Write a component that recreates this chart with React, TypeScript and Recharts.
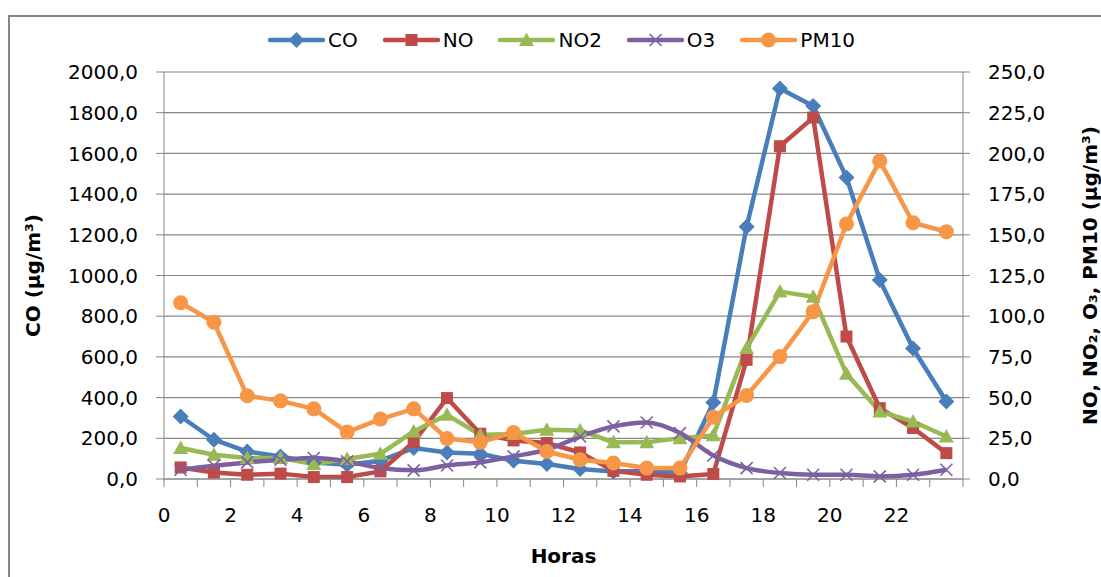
import React from 'react';
import { LineChart, Line, XAxis, YAxis, CartesianGrid, Label } from 'recharts';

// Hourly mean concentrations (µg/m³)
const hours = [0.5, 1.5, 2.5, 3.5, 4.5, 5.5, 6.5, 7.5, 8.5, 9.5, 10.5, 11.5, 12.5, 13.5, 14.5, 15.5, 16.5, 17.5, 18.5, 19.5, 20.5, 21.5, 22.5, 23.5];
const coValues = [307, 193, 135, 111, 81, 70, 90, 152, 130, 124, 90, 74, 49, 37, 40, 30, 376, 1240, 1919, 1833, 1482, 978, 641, 381];
const noValues = [7.1, 4.0, 2.6, 3.3, 1.2, 1.2, 4.7, 22.7, 49.7, 27.8, 23.7, 22.1, 16.3, 5.0, 2.6, 1.6, 3.1, 73.2, 204.4, 222.0, 87.5, 43.5, 31.3, 15.9];
const no2Values = [19.0, 14.9, 12.9, 12.9, 9.2, 12.3, 15.5, 29.2, 39.4, 27.2, 27.6, 30.2, 29.8, 22.5, 22.5, 25.1, 26.8, 80.4, 115.1, 112.0, 64.6, 41.5, 35.3, 26.1];
const o3Values = [5.7, 8.2, 10.2, 11.8, 12.9, 10.8, 6.7, 5.3, 8.3, 10.2, 13.9, 18.0, 26.1, 32.3, 34.7, 28.2, 14.4, 6.7, 3.7, 2.6, 2.6, 1.6, 2.6, 5.7];
const pm10Values = [108.3, 96.3, 51.1, 48.0, 43.1, 28.8, 36.8, 43.1, 24.9, 22.5, 28.6, 16.9, 11.8, 9.8, 6.7, 6.7, 38.0, 51.3, 75.2, 102.8, 156.6, 195.4, 157.4, 151.9];

// Axis ticks
const hourTicks = [0, 1, 2, 3, 4, 5, 6, 7, 8, 9, 10, 11, 12, 13, 14, 15, 16, 17, 18, 19, 20, 21, 22, 23, 24];
const coTicks = [0, 200, 400, 600, 800, 1000, 1200, 1400, 1600, 1800, 2000];
const otherTicks = [0, 25, 50, 75, 100, 125, 150, 175, 200, 225, 250];

const data = hours.map((hour, i) => ({
  hour,
  CO: coValues[i],
  NO: noValues[i],
  NO2: no2Values[i],
  O3: o3Values[i],
  PM10: pm10Values[i],
}));

type Shape = 'diamond' | 'square' | 'triangle' | 'x' | 'circle';

const series: { key: string; axis: string; color: string; shape: Shape; curve: 'linear' | 'monotone' }[] = [
  { key: 'CO', axis: 'left', color: '#4A7EBB', shape: 'diamond', curve: 'linear' },
  { key: 'NO', axis: 'right', color: '#BE4B48', shape: 'square', curve: 'linear' },
  { key: 'NO2', axis: 'right', color: '#98B954', shape: 'triangle', curve: 'linear' },
  { key: 'O3', axis: 'right', color: '#7D60A0', shape: 'x', curve: 'monotone' },
  { key: 'PM10', axis: 'right', color: '#F79646', shape: 'circle', curve: 'linear' },
];

const FONT = '"DejaVu Sans", sans-serif';
const GRAY = '#868686';

function Marker({ shape, cx, cy, color }: { shape: Shape; cx: number; cy: number; color: string }) {
  switch (shape) {
    case 'diamond':
      return <polygon points={`${cx},${cy - 8} ${cx + 8},${cy} ${cx},${cy + 8} ${cx - 8},${cy}`} fill={color} />;
    case 'square':
      return <rect x={cx - 6} y={cy - 6} width={12} height={12} fill={color} />;
    case 'triangle':
      return <polygon points={`${cx},${cy - 7.5} ${cx + 7.5},${cy + 6} ${cx - 7.5},${cy + 6}`} fill={color} />;
    case 'x':
      return (
        <g stroke={color} strokeWidth={1.6}>
          <line x1={cx - 6} y1={cy - 6} x2={cx + 6} y2={cy + 6} />
          <line x1={cx - 6} y1={cy + 6} x2={cx + 6} y2={cy - 6} />
        </g>
      );
    default:
      return <circle cx={cx} cy={cy} r={7.5} fill={color} />;
  }
}

const renderDot = (shape: Shape, color: string) => (props: any) => {
  const { cx, cy, index } = props;
  if (cx == null || cy == null) return <g key={`d-${index}`} />;
  return (
    <g key={`d-${index}`}>
      <Marker shape={shape} cx={cx} cy={cy} color={color} />
    </g>
  );
};

const fmt = (v: number) => v.toFixed(1).replace('.', ',');

function LegendItem({ name, color, shape }: { name: string; color: string; shape: Shape }) {
  return (
    <div style={{ display: 'flex', alignItems: 'center', marginRight: 25 }}>
      <svg width={57} height={18} style={{ display: 'block' }}>
        <line x1={2} y1={9} x2={55} y2={9} stroke={color} strokeWidth={4.5} strokeLinecap="round" />
        <Marker shape={shape} cx={28.5} cy={9} color={color} />
      </svg>
      <span style={{ marginLeft: 3, fontFamily: FONT, fontSize: 20, color: '#000', lineHeight: '20px' }}>{name}</span>
    </div>
  );
}

export default function App() {
  const tickStyle = { fontFamily: FONT, fontSize: 20, fill: '#000' };
  return (
    <div style={{ position: 'fixed', left: 0, top: 0, width: 1101, height: 577, background: '#fff', overflow: 'hidden' }}>
      <div
        style={{
          position: 'absolute',
          left: 8,
          top: 15,
          width: 1101,
          height: 577,
          borderTop: `2px solid ${GRAY}`,
          borderLeft: `2px solid ${GRAY}`,
        }}
      />
      <div style={{ position: 'absolute', left: 0, top: 0 }}>
        <LineChart width={1101} height={577} data={data} margin={{ top: 72, right: 0, bottom: 0, left: 0 }}>
          <CartesianGrid yAxisId="left" vertical={false} stroke={GRAY} strokeWidth={1.2} />
          <XAxis
            dataKey="hour"
            type="number"
            domain={[0, 24]}
            ticks={hourTicks}
            interval={0}
            height={98}
            stroke={GRAY}
            tickSize={8}
            tickMargin={21}
            tick={tickStyle}
            tickFormatter={(v: number) => (v % 2 === 0 && v < 24 ? String(v) : '')}
          >
            <Label
              content={(p: any) => {
                const vb = p.viewBox;
                return (
                  <text x={vb.x + vb.width / 2} y={563} textAnchor="middle" fontFamily={FONT} fontSize={20} fontWeight="bold" fill="#000">
                    Horas
                  </text>
                );
              }}
            />
          </XAxis>
          <YAxis
            yAxisId="left"
            orientation="left"
            width={164}
            domain={[0, 2000]}
            ticks={coTicks}
            interval={0}
            stroke={GRAY}
            tickSize={8}
            tickMargin={18}
            tick={tickStyle}
            tickFormatter={fmt}
          >
            <Label
              content={(p: any) => {
                const vb = p.viewBox;
                const cy = vb.y + vb.height / 2;
                return (
                  <text x={40} y={cy} transform={`rotate(-90, 40, ${cy})`} textAnchor="middle" fontFamily={FONT} fontSize={20} fontWeight="bold" fill="#000">
                    CO (µg/m³)
                  </text>
                );
              }}
            />
          </YAxis>
          <YAxis
            yAxisId="right"
            orientation="right"
            width={138}
            domain={[0, 250]}
            ticks={otherTicks}
            interval={0}
            stroke={GRAY}
            tickSize={7}
            tickMargin={18}
            tick={tickStyle}
            tickFormatter={fmt}
          >
            <Label
              content={(p: any) => {
                const vb = p.viewBox;
                const cy = vb.y + vb.height / 2;
                return (
                  <text x={1097} y={cy} transform={`rotate(-90, 1097, ${cy})`} textAnchor="middle" fontFamily={FONT} fontSize={20} fontWeight="bold" fill="#000">
                    NO, NO₂, O₃, PM10 (µg/m³)
                  </text>
                );
              }}
            />
          </YAxis>
          {series.map((s) => (
            <Line
              key={s.key}
              yAxisId={s.axis}
              type={s.curve}
              dataKey={s.key}
              stroke={s.color}
              strokeWidth={4.5}
              strokeLinejoin="round"
              dot={renderDot(s.shape, s.color)}
              activeDot={false}
              isAnimationActive={false}
            />
          ))}
        </LineChart>
      </div>
      <div style={{ position: 'absolute', left: 268, top: 30, display: 'flex', alignItems: 'center' }}>
        {series.map((s) => (
          <LegendItem key={s.key} name={s.key} color={s.color} shape={s.shape} />
        ))}
      </div>
    </div>
  );
}
